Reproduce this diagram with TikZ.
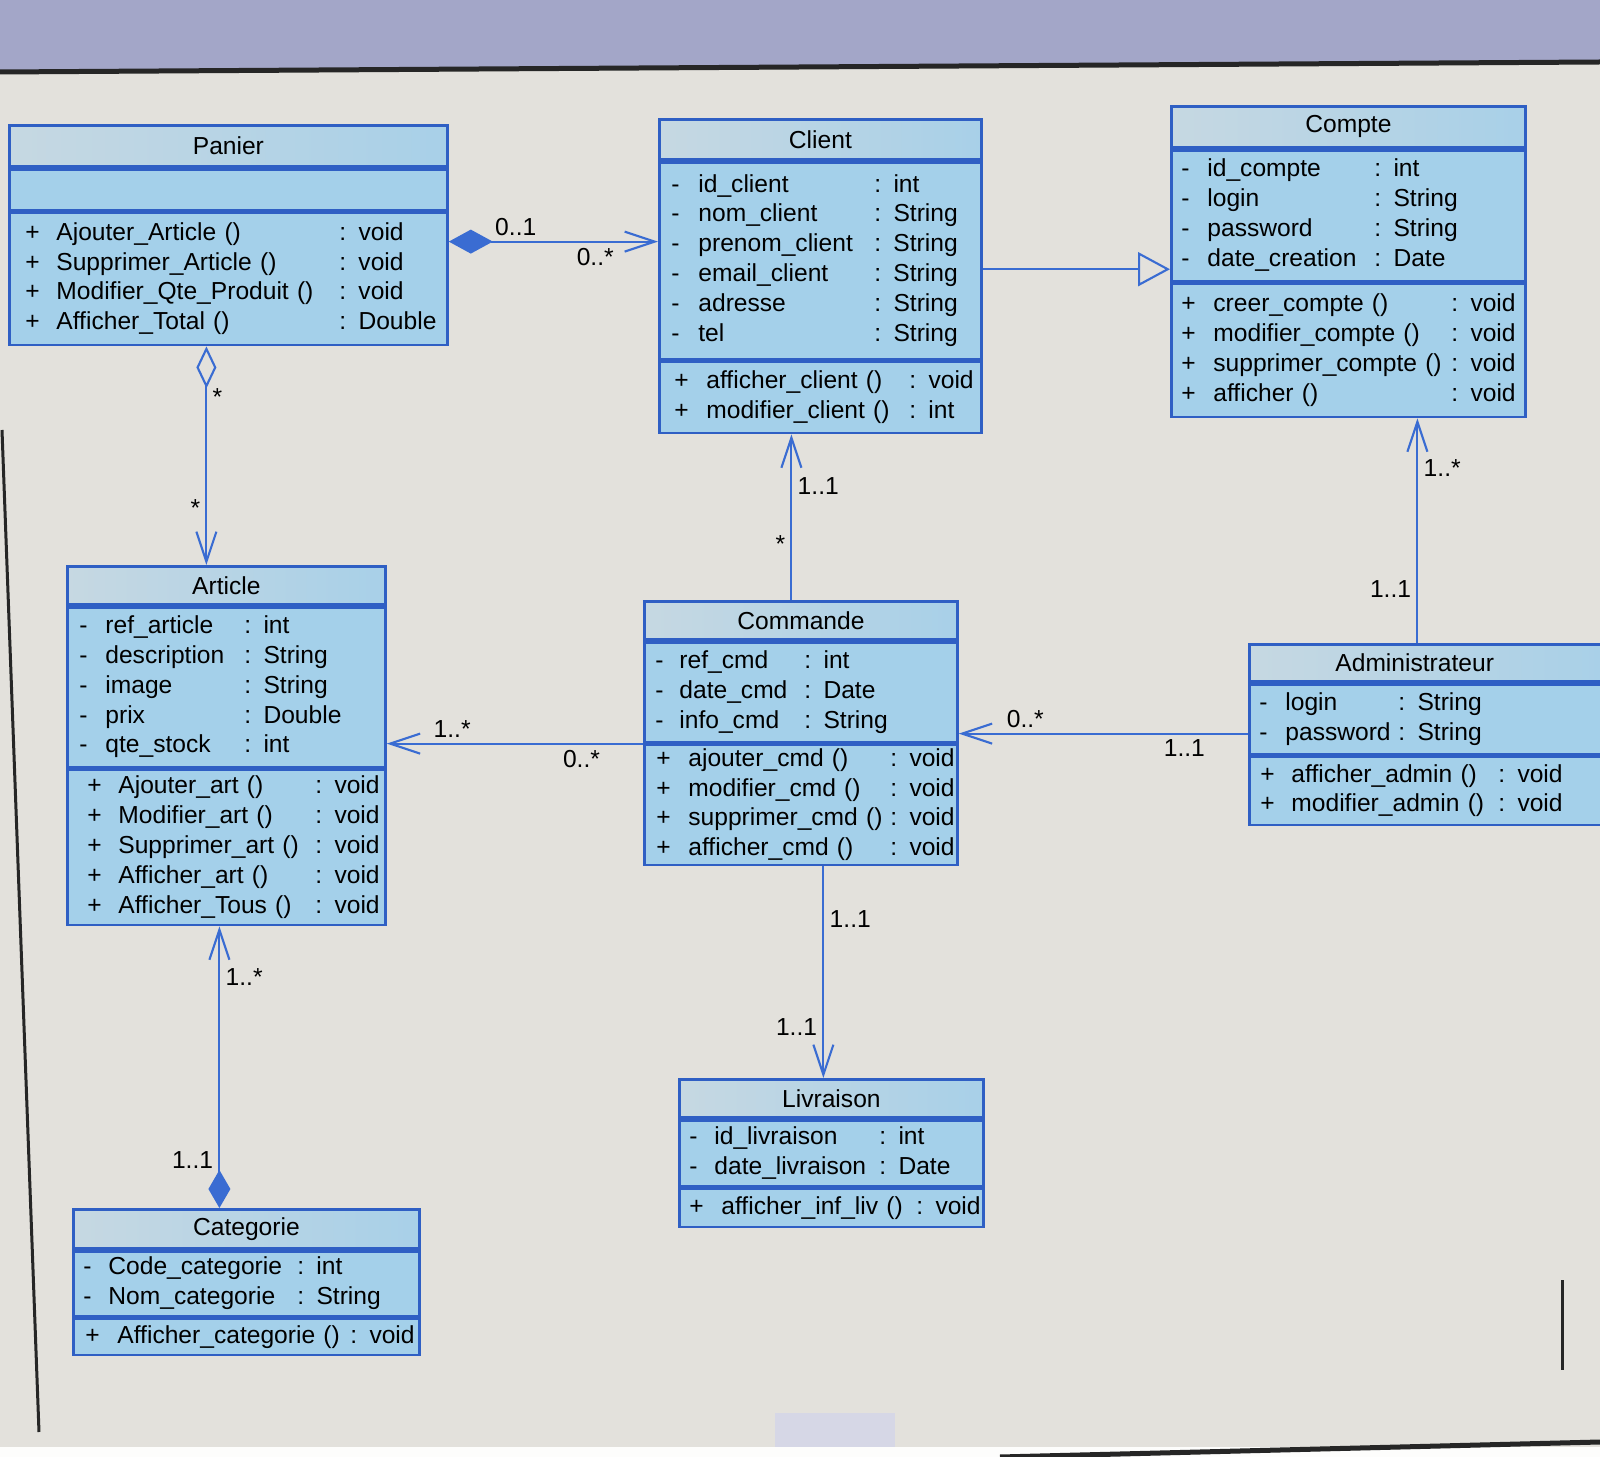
\documentclass[tikz,border=0pt]{standalone}
\usepackage{fontspec}
\setmainfont{Liberation Sans}
\usetikzlibrary{arrows.meta,positioning}
\definecolor{umlblue}{HTML}{2F5FC4}
\definecolor{linkblue}{HTML}{3A6CD2}
\definecolor{boxfill}{HTML}{A4D0EA}
\definecolor{headl}{HTML}{C6D8E2}
\definecolor{headr}{HTML}{A8D0E8}
\definecolor{screen}{HTML}{E3E1DC}
\definecolor{banner}{HTML}{A3A6C8}
\newcommand{\umlrows}[4]{\noindent\begin{tabular}{@{\hspace{#1}}p{#2}@{}p{#3}@{}l@{}}#4\end{tabular}}

\begin{document}
\begin{tikzpicture}[x=0.1mm,y=-0.1mm,font=\fontsize{7}{8.5}\selectfont,
  >={Straight Barb[length=3mm,width=2mm]},
  head/.style={draw=umlblue,line width=0.8pt,left color=headl,right color=headr,inner sep=0pt,align=center,anchor=north west},
  part/.style={draw=umlblue,line width=0.8pt,fill=boxfill,inner sep=0pt,align=left},
  wire/.style={draw=linkblue,line width=0.6pt},
  mult/.style={inner sep=1.5pt}]
  \clip (0,0) rectangle (1600,1457);
  % screen
  \fill[screen] (0,0) rectangle (1600,1457);
  \fill[banner] (0,0) -- (1600,0) -- (1600,62) -- (0,72) -- cycle;
  \draw[black!85,line width=0.5mm] (0,72) -- (1600,62);
  \fill[white!92!screen] (0,1447) rectangle (1600,1457);
  \fill[banner!45] (775,1413) rectangle (895,1447);
  \draw[black!85,line width=0.3mm] (2,430) -- (39,1432);
  \draw[black!85,line width=0.3mm] (1562,1280) -- (1562,1370);
  \draw[black!85,line width=0.5mm] (1000,1457) -- (1600,1442);

  % Panier
  \node[head,text width=43.8mm,minimum height=4.1mm] (pan) at (8,124) {Panier};
  \node[part,text width=43.8mm,minimum height=4.1mm,below=0pt of pan] (pan-a) {};
  \node[part,text width=43.8mm,minimum height=13.2mm,below=0pt of pan-a] (pan-o) {\umlrows{1.6mm}{3.1mm}{28.3mm}{
    +&Ajouter\_Article ()&: void\\
    +&Supprimer\_Article ()&: void\\
    +&Modifier\_Qte\_Produit ()&: void\\
    +&Afficher\_Total ()&: Double}};

  % Client
  \node[head,text width=32.2mm,minimum height=4mm] (cli) at (658,118) {Client};
  \node[part,text width=32.2mm,minimum height=19.7mm,below=0pt of cli] (cli-a) {\umlrows{1.2mm}{2.7mm}{17.6mm}{
    -&id\_client&: int\\
    -&nom\_client&: String\\
    -&prenom\_client&: String\\
    -&email\_client&: String\\
    -&adresse&: String\\
    -&tel&: String}};
  \node[part,text width=32.2mm,minimum height=7.1mm,below=0pt of cli-a] (cli-o) {\umlrows{1.5mm}{3.2mm}{20.3mm}{
    +&afficher\_client ()&: void\\
    +&modifier\_client ()&: int}};

  % Compte
  \node[head,text width=35.4mm,minimum height=4.1mm] (cpt) at (1170,105) {Compte};
  \node[part,text width=35.4mm,minimum height=13.1mm,below=0pt of cpt] (cpt-a) {\umlrows{1mm}{2.6mm}{16.7mm}{
    -&id\_compte&: int\\
    -&login&: String\\
    -&password&: String\\
    -&date\_creation&: Date}};
  \node[part,text width=35.4mm,minimum height=13.3mm,below=0pt of cpt-a] (cpt-o) {\umlrows{1mm}{3.2mm}{23.8mm}{
    +&creer\_compte ()&: void\\
    +&modifier\_compte ()&: void\\
    +&supprimer\_compte ()&: void\\
    +&afficher ()&: void}};

  % Article
  \node[head,text width=31.8mm,minimum height=3.8mm] (art) at (66,565) {Article};
  \node[part,text width=31.8mm,minimum height=16mm,below=0pt of art] (art-a) {\umlrows{1.2mm}{2.6mm}{13.9mm}{
    -&ref\_article&: int\\
    -&description&: String\\
    -&image&: String\\
    -&prix&: Double\\
    -&qte\_stock&: int}};
  \node[part,text width=31.8mm,minimum height=15.5mm,below=0pt of art-a] (art-o) {\umlrows{2mm}{3.1mm}{19.7mm}{
    +&Ajouter\_art ()&: void\\
    +&Modifier\_art ()&: void\\
    +&Supprimer\_art ()&: void\\
    +&Afficher\_art ()&: void\\
    +&Afficher\_Tous ()&: void}};

  % Commande
  \node[head,text width=31.3mm,minimum height=3.8mm] (cmd) at (643,600) {Commande};
  \node[part,text width=31.3mm,minimum height=10mm,below=0pt of cmd] (cmd-a) {\umlrows{1.1mm}{2.4mm}{12.5mm}{
    -&ref\_cmd&: int\\
    -&date\_cmd&: Date\\
    -&info\_cmd&: String}};
  \node[part,text width=31.3mm,minimum height=12mm,below=0pt of cmd-a] (cmd-o) {\umlrows{1.2mm}{3.2mm}{20.2mm}{
    +&ajouter\_cmd ()&: void\\
    +&modifier\_cmd ()&: void\\
    +&supprimer\_cmd ()&: void\\
    +&afficher\_cmd ()&: void}};

  % Administrateur
  \node[head,text width=36.2mm,minimum height=3.7mm,align=left] (adm) at (1248,643) {\hspace*{8.6mm}Administrateur};
  \node[part,text width=36.2mm,minimum height=7mm,below=0pt of adm] (adm-a) {\umlrows{1mm}{2.6mm}{11.3mm}{
    -&login&: String\\
    -&password&: String}};
  \node[part,text width=36.2mm,minimum height=6.8mm,below=0pt of adm-a] (adm-o) {\umlrows{1.1mm}{3.1mm}{20.7mm}{
    +&afficher\_admin ()&: void\\
    +&modifier\_admin ()&: void}};

  % Livraison
  \node[head,text width=30.4mm,minimum height=3.8mm] (liv) at (678,1078) {Livraison};
  \node[part,text width=30.4mm,minimum height=6.6mm,below=0pt of liv] (liv-a) {\umlrows{1mm}{2.5mm}{16.5mm}{
    -&id\_livraison&: int\\
    -&date\_livraison&: Date}};
  \node[part,text width=30.4mm,minimum height=3.8mm,below=0pt of liv-a] (liv-o) {\umlrows{1mm}{3.2mm}{19.5mm}{
    +&afficher\_inf\_liv ()&: void}};

  % Categorie
  \node[head,text width=34.6mm,minimum height=3.9mm] (cat) at (72,1208) {Categorie};
  \node[part,text width=34.6mm,minimum height=6.5mm,below=0pt of cat] (cat-a) {\umlrows{1mm}{2.5mm}{18.9mm}{
    -&Code\_categorie&: int\\
    -&Nom\_categorie&: String}};
  \node[part,text width=34.6mm,minimum height=3.6mm,below=0pt of cat-a] (cat-o) {\umlrows{1.2mm}{3.2mm}{23.3mm}{
    +&Afficher\_categorie ()&: void}};

  % links
  \coordinate (pc) at ([yshift=-3mm]pan-o.north east);
  \coordinate (cc) at ([yshift=-0.85mm]cli-a.east);
  \coordinate (pa) at ([xshift=-2.2mm]pan-o.south);
  \coordinate (kc) at ([xshift=-0.95mm]cmd.north);
  \coordinate (ac) at ([yshift=1mm]cmd-a.south east);
  \coordinate (ap) at ([xshift=-1.3mm]adm.north);
  \coordinate (kl) at ([xshift=2.25mm]cmd-o.south);
  \coordinate (ca) at ([xshift=-2.7mm]cat.north);

  \draw[wire,{Diamond[length=4.4mm,width=2.4mm]}->] (pc) -- node[mult,pos=0.32,above] (m1) {0..1}
    node[mult,pos=0.7,below] (m2) {0..*} (cli-a.west |- pc);
  \draw[wire,-{Triangle[length=3.2mm,width=3.4mm,fill=screen]}] (cc) -- (cpt-a.west |- cc);
  \draw[wire,{Diamond[length=4.2mm,width=2mm,fill=screen]}->] (pa) -- node[mult,pos=0.23,right] (m3) {*}
    node[mult,pos=0.74,left] (m4) {*} (art.north -| pa);
  \draw[wire,->] (kc) -- node[mult,pos=0.34,left] (m5) {*}
    node[mult,pos=0.69,right] (m6) {1..1} (cli-o.south -| kc);
  \draw[wire,->] (cmd-a.south west) -- node[mult,pos=0.24,below] (m7) {0..*}
    node[mult,pos=0.745,above] (m8) {1..*} (art-a.east |- cmd-a.south west);
  \draw[wire,->] (adm-a.west |- ac) -- node[mult,pos=0.22,below] (m9) {1..1}
    node[mult,pos=0.77,above] (m10) {0..*} (ac);
  \draw[wire,->] (ap) -- node[mult,pos=0.24,left] (m11) {1..1}
    node[mult,pos=0.78,right] (m12) {1..*} (cpt-o.south -| ap);
  \draw[wire,->] (kl) -- node[mult,pos=0.25,right] (m13) {1..1}
    node[mult,pos=0.76,left] (m14) {1..1} (liv.north -| kl);
  \draw[wire,{Diamond[length=3.8mm,width=2.2mm]}->] (ca) -- node[mult,pos=0.17,left] (m15) {1..1}
    node[mult,pos=0.82,right] (m16) {1..*} (art-o.south -| ca);
\end{tikzpicture}
\end{document}
